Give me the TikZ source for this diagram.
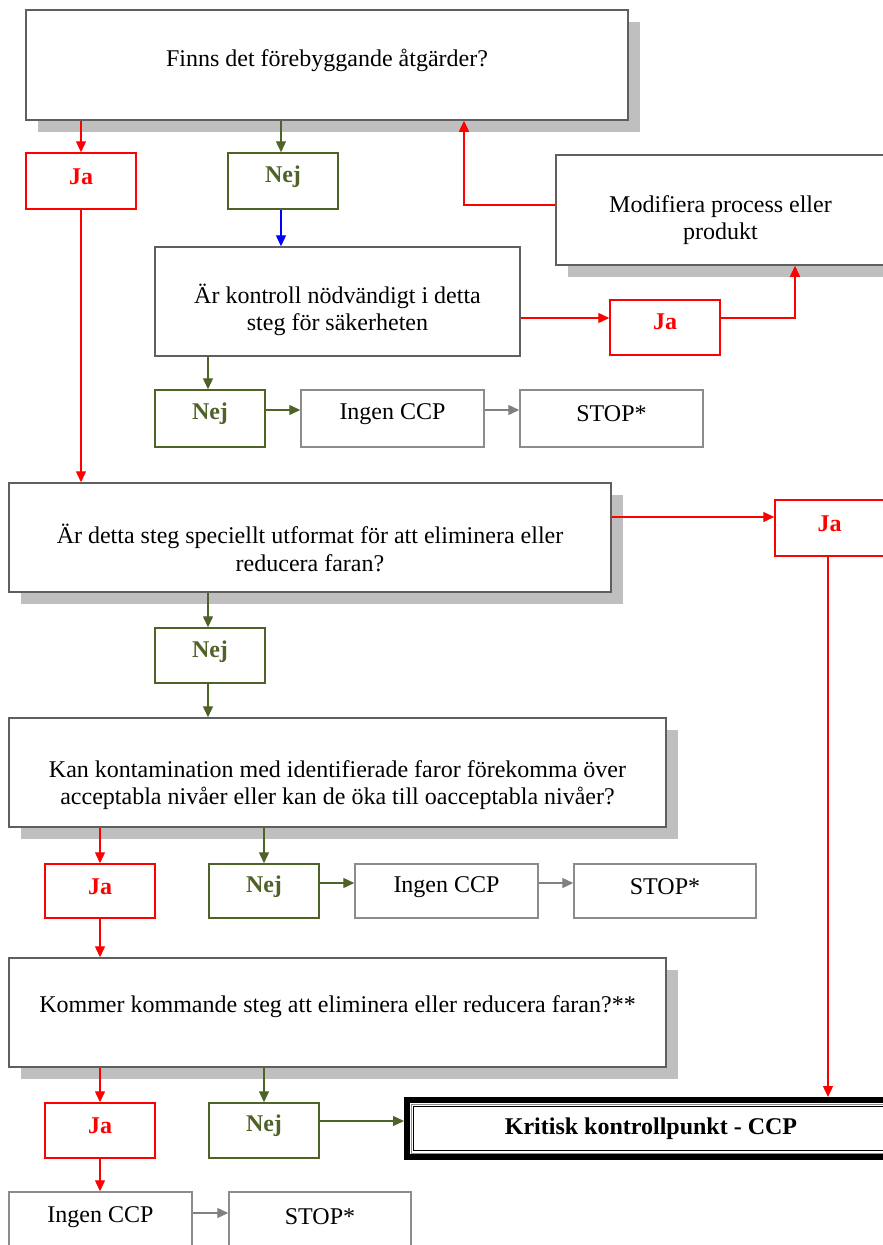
\documentclass[tikz,border=0pt]{standalone}
\usepackage{fontspec}
\setmainfont{Liberation Serif}
\usetikzlibrary{arrows.meta,shadows,calc}
\definecolor{myred}{RGB}{255,0,0}
\definecolor{mygreen}{RGB}{79,98,40}
\definecolor{myblue}{RGB}{0,0,255}
\definecolor{qgray}{RGB}{95,95,95}
\definecolor{egray}{RGB}{140,140,140}
\definecolor{arrgray}{RGB}{128,128,128}
\definecolor{shadowgray}{RGB}{191,191,191}
\newcommand{\mkbox}[6]{\node[#2, minimum width={(#5)-(#3)}, minimum height={(#6)-(#4)}] (#1) at ({((#3)+(#5))/2},{((#4)+(#6))/2}) {};}
\begin{document}
\begin{tikzpicture}[x=1pt,y=-1pt,
  font=\fontsize{24}{27.5}\selectfont,
  conn/.style={line width=1.4pt,-{Triangle[length=11pt 0,width=10pt 0]}},
  qbox/.style={draw=qgray,line width=1.5pt,fill=white,inner sep=0pt},
  shq/.style={qbox,drop shadow={shadow xshift=12pt,shadow yshift=-12pt,fill=shadowgray,opacity=1}},
  jabox/.style={draw=myred,line width=1.5pt,fill=white,inner sep=0pt},
  nejbox/.style={draw=mygreen,line width=1.5pt,fill=white,inner sep=0pt},
  endbox/.style={draw=egray,line width=1.5pt,fill=white,inner sep=0pt},
  ccpbox/.style={draw=black,line width=6pt,fill=white,inner sep=0pt},
  txt/.style={align=center,inner sep=0pt},
  jatxt/.style={txt,text=myred,font=\fontsize{24}{27.5}\selectfont\bfseries},
  nejtxt/.style={txt,text=mygreen,font=\fontsize{24}{27.5}\selectfont\bfseries}
]
\useasboundingbox[fill=white] (0,0) rectangle (883,1245);

% boxes
\mkbox{b1}{shq}{26}{10}{628}{120}
\mkbox{ja1}{jabox}{26}{153}{136}{209}
\mkbox{nej1}{nejbox}{228}{153}{338}{209}
\mkbox{mod}{shq}{556}{155}{885}{265}
\mkbox{b2}{qbox}{155}{247}{520}{356}
\mkbox{ja2}{jabox}{610}{300}{720}{355}
\mkbox{nej2}{nejbox}{155}{390}{265}{447}
\mkbox{ing1}{endbox}{301}{390}{484}{447}
\mkbox{stop1}{endbox}{520}{390}{703}{447}
\mkbox{b3}{shq}{9}{483}{611}{592}
\mkbox{ja3}{jabox}{775}{500}{884}{556}
\mkbox{nej3}{nejbox}{155}{628}{265}{683}
\mkbox{b4}{shq}{9}{718}{666}{827}
\mkbox{ja4}{jabox}{45}{864}{155}{918}
\mkbox{nej4}{nejbox}{209}{864}{319}{918}
\mkbox{ing2}{endbox}{355}{864}{538}{918}
\mkbox{stop2}{endbox}{574}{864}{756}{918}
\mkbox{b5}{shq}{9}{958}{666}{1067}
\mkbox{ja5}{jabox}{45}{1103}{155}{1158}
\mkbox{nej5}{nejbox}{209}{1103}{319}{1158}
\mkbox{ccp}{ccpbox}{407}{1100}{890}{1157}
\mkbox{ing3}{endbox}{9}{1192}{192}{1252}
\mkbox{stop3}{endbox}{229}{1192}{411}{1252}
\draw[egray,line width=1pt] ($(ccp.north west)+(7,7)$) rectangle ($(ccp.south east)+(-7,-7)$);
\draw[black,line width=1pt] ($(ccp.north west)+(9.5,9.5)$) rectangle ($(ccp.south east)+(-9.5,-9.5)$);

% texts
\node[txt] (tb1) at (b1.center |- 0,60) {Finns det förebyggande åtgärder?};
\node[jatxt] (tja1) at (ja1.center |- 0,177) {Ja};
\node[nejtxt] (tnej1) at (nej1.center |- 0,177) {Nej};
\node[txt] (tmod) at (mod.center |- 0,220) {Modifiera process eller\\produkt};
\node[txt] (tb2) at (b2.center |- 0,310) {Är kontroll nödvändigt i detta\\steg för säkerheten};
\node[jatxt] (tja2) at (ja2.center |- 0,322) {Ja};
\node[nejtxt] (tnej2) at (nej2.center |- 0,414) {Nej};
\node[txt] (ting1) at (ing1.center |- 0,414) {Ingen CCP};
\node[txt] (tstop1) at (stop1.center |- 0,414) {STOP*};
\node[txt] (tb3) at (b3.center |- 0,548) {Är detta steg speciellt utformat för att eliminera eller\\reducera faran?};
\node[jatxt] (tja3) at (ja3.center |- 0,524) {Ja};
\node[nejtxt] (tnej3) at (nej3.center |- 0,652) {Nej};
\node[txt] (tb4) at (b4.center |- 0,785) {Kan kontamination med identifierade faror förekomma över\\acceptabla nivåer eller kan de öka till oacceptabla nivåer?};
\node[jatxt] (tja4) at (ja4.center |- 0,887) {Ja};
\node[nejtxt] (tnej4) at (nej4.center |- 0,887) {Nej};
\node[txt] (ting2) at (ing2.center |- 0,887) {Ingen CCP};
\node[txt] (tstop2) at (stop2.center |- 0,887) {STOP*};
\node[txt] (tb5) at (b5.center |- 0,1007) {Kommer kommande steg att eliminera eller reducera faran?**};
\node[jatxt] (tja5) at (ja5.center |- 0,1126) {Ja};
\node[nejtxt] (tnej5) at (nej5.center |- 0,1126) {Nej};
\node[txt,font=\fontsize{24}{27.5}\selectfont\bfseries] (tccp) at (651,1129) {Kritisk kontrollpunkt - CCP};
\node[txt] (ting3) at (ing3.center |- 0,1217) {Ingen CCP};
\node[txt] (tstop3) at (stop3.center |- 0,1217) {STOP*};

% connectors
\draw[conn,myred] (b1.south -| ja1.north) -- (ja1.north);
\draw[conn,mygreen] (b1.south -| 281,0) -- (nej1.north -| 281,0);
\draw[conn,myblue] (nej1.south -| 281,0) -- (b2.north -| 281,0);
\draw[conn,myred] (mod.west |- 0,205) -| (b1.south -| 464,0);
\draw[conn,myred] (b2.east |- 0,318) -- (ja2.west |- 0,318);
\draw[conn,myred] (ja2.east |- 0,318) -| (mod.south -| 795,0);
\draw[conn,mygreen] (b2.south -| 208,0) -- (nej2.north -| 208,0);
\draw[conn,mygreen] (nej2.east |- 0,410) -- (ing1.west |- 0,410);
\draw[conn,arrgray] (ing1.east |- 0,410) -- (stop1.west |- 0,410);
\draw[conn,myred] (ja1.south) -- (b3.north -| ja1.south);
\draw[conn,myred] (b3.east |- 0,517) -- (ja3.west |- 0,517);
\draw[conn,myred] (ja3.south -| 828,0) -- (ccp.north -| 828,0);
\draw[conn,mygreen] (b3.south -| 208,0) -- (nej3.north -| 208,0);
\draw[conn,mygreen] (nej3.south -| 208,0) -- (b4.north -| 208,0);
\draw[conn,myred] (b4.south -| ja4.north) -- (ja4.north);
\draw[conn,mygreen] (b4.south -| nej4.north) -- (nej4.north);
\draw[conn,mygreen] (nej4.east |- 0,883) -- (ing2.west |- 0,883);
\draw[conn,arrgray] (ing2.east |- 0,883) -- (stop2.west |- 0,883);
\draw[conn,myred] (ja4.south) -- (b5.north -| ja4.south);
\draw[conn,myred] (b5.south -| ja5.north) -- (ja5.north);
\draw[conn,mygreen] (b5.south -| nej5.north) -- (nej5.north);
\draw[conn,mygreen] (nej5.east |- 0,1121) -- (ccp.west |- 0,1121);
\draw[conn,myred] (ja5.south) -- (ing3.north -| ja5.south);
\draw[conn,arrgray] (ing3.east |- 0,1213) -- (stop3.west |- 0,1213);
\end{tikzpicture}
\end{document}
